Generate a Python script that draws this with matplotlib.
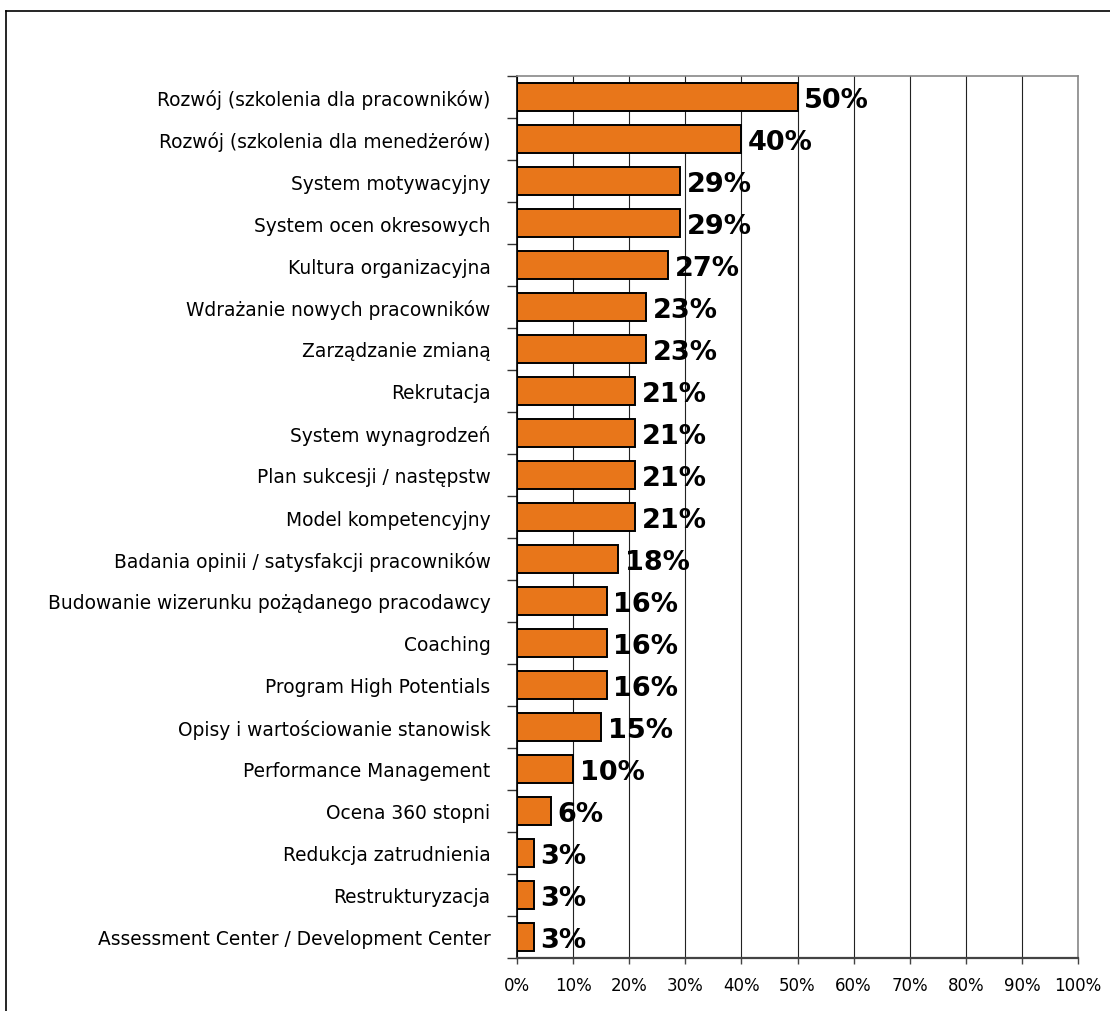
import numpy as np
import matplotlib
matplotlib.use("Agg")
import matplotlib.pyplot as plt
from matplotlib.lines import Line2D
from matplotlib.ticker import FixedLocator, PercentFormatter

labels = [
    "Rozwój (szkolenia dla pracowników)",
    "Rozwój (szkolenia dla menedżerów)",
    "System motywacyjny",
    "System ocen okresowych",
    "Kultura organizacyjna",
    "Wdrażanie nowych pracowników",
    "Zarządzanie zmianą",
    "Rekrutacja",
    "System wynagrodzeń",
    "Plan sukcesji / następstw",
    "Model kompetencyjny",
    "Badania opinii / satysfakcji pracowników",
    "Budowanie wizerunku pożądanego pracodawcy",
    "Coaching",
    "Program High Potentials",
    "Opisy i wartościowanie stanowisk",
    "Performance Management",
    "Ocena 360 stopni",
    "Redukcja zatrudnienia",
    "Restrukturyzacja",
    "Assessment Center / Development Center",
]
values = [50, 40, 29, 29, 27, 23, 23, 21, 21, 21, 21, 18, 16, 16, 16, 15, 10, 6, 3, 3, 3]

plt.rcParams["font.family"] = ["DejaVu Sans"]

fig = plt.figure(figsize=(11.1, 10.12), dpi=100)
ax = fig.add_axes([517 / 1110, 1 - 959 / 1012, (1078 - 517) / 1110, (959 - 77) / 1012])

n = len(labels)
y = np.arange(n)
ax.barh(y, values, height=0.67, color="#E8761A", edgecolor="black", linewidth=1.4, zorder=3)
for yi, v in zip(y, values):
    ax.text(v + 1.2, yi + 0.08, f"{v}%", va="center", ha="left", fontsize=19.5,
            fontweight="bold", zorder=4)

ax.set_xlim(0, 100)
ax.set_ylim(n - 0.5, -0.5)
ax.set_yticks(y)
ax.set_yticklabels(labels, fontsize=13.4)
ax.yaxis.set_minor_locator(FixedLocator(np.arange(-0.5, n, 1)))
ax.tick_params(axis="y", which="major", length=0, pad=19)
ax.tick_params(axis="y", which="minor", length=7, width=1, color="#333333", direction="out")

ax.set_xticks(np.arange(0, 101, 10))
ax.xaxis.set_major_formatter(PercentFormatter(decimals=0))
ax.tick_params(axis="x", length=4, width=1, color="#444444", labelsize=12, pad=9)
ax.grid(axis="x", color="#222222", lw=0.8, zorder=0)

ax.spines["left"].set_color("black")
ax.spines["left"].set_linewidth(1.2)
ax.spines["bottom"].set_color("#444444")
ax.spines["bottom"].set_linewidth(1.6)
for s in ("top", "right"):
    ax.spines[s].set_color("#888888")
    ax.spines[s].set_linewidth(1.2)

# outer frame of the figure
fig.add_artist(Line2D([6 / 1110, 1.0], [1 - 12 / 1012] * 2, color="black", lw=1.2,
                      transform=fig.transFigure))
fig.add_artist(Line2D([6 / 1110] * 2, [0.0, 1 - 12 / 1012], color="black", lw=1.2,
                      transform=fig.transFigure))

fig.savefig("out.png", dpi=100)
